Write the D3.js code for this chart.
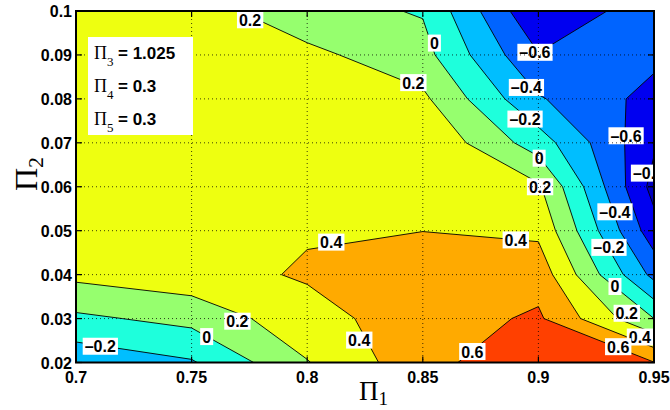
<!DOCTYPE html>
<html>
<head>
<meta charset="utf-8">
<script src="https://cdn.jsdelivr.net/npm/d3@7"></script>
<style>
  body { margin: 0; background: #fff; }
  svg { display: block; }
</style>
</head>
<body>
<svg id="chart" width="670" height="410"></svg>
<script>
// Sampling grid
const pi1Values = [0.7, 0.75, 0.8, 0.85, 0.9, 0.95];
const pi2Values = [0.02, 0.03, 0.04, 0.05, 0.06, 0.07, 0.08, 0.09, 0.1];

// Response at each grid node, one row per Π2 value (bottom to top)
const zAt002 = [-0.34, -0.22, 0.19, 0.53, 0.76, 0.605];
const zAt003 = [-0.04, 0.06, 0.33, 0.50, 0.63, 0.00];
const zAt004 = [0.25, 0.33, 0.42, 0.50, 0.52, -0.46];
const zAt005 = [0.29, 0.35, 0.385, 0.398, 0.36, -0.72];
const zAt006 = [0.31, 0.36, 0.36, 0.39, 0.23, -0.87];
const zAt007 = [0.32, 0.35, 0.34, 0.38, -0.10, -0.77];
const zAt008 = [0.32, 0.34, 0.32, 0.24, -0.38, -0.67];
const zAt009 = [0.31, 0.32, 0.25, 0.07, -0.59, -0.55];
const zAt010 = [0.30, 0.29, 0.07, -0.015, -0.79, -0.47];

// Contour levels and the fill of each band (lowest band first)
const levels = [-0.8, -0.6, -0.4, -0.2, 0, 0.2, 0.4, 0.6];
const bandColors = ["#0000BE", "#0000F0", "#0064FF", "#00BEFF", "#1EFFDC",
                    "#96FF6E", "#EEFF10", "#FFAA00", "#FF4000"];

// Axis ticks
const xTicks = [0.7, 0.75, 0.8, 0.85, 0.9, 0.95];
const xTickLabels = ["0.7", "0.75", "0.8", "0.85", "0.9", "0.95"];
const yTicks = [0.02, 0.03, 0.04, 0.05, 0.06, 0.07, 0.08, 0.09, 0.1];
const yTickLabels = ["0.02", "0.03", "0.04", "0.05", "0.06", "0.07", "0.08", "0.09", "0.1"];

// Inline contour labels: level shown and where it sits
const labelLevel = [0.2, 0, 0.2, -0.6, -0.4, -0.2, 0, 0.2, -0.6, -0.8, -0.4, -0.2,
                    0, 0.2, 0.4, 0.6, 0.4, 0.4, 0.4, 0.6, 0.2, 0, -0.2];
const labelPi1 = [0.7753, 0.855, 0.8459, 0.8985, 0.8948, 0.8942, 0.9003, 0.9007, 0.9379, 0.9476, 0.9331, 0.9305,
                  0.9331, 0.9382, 0.9439, 0.9345, 0.8902, 0.8104, 0.8225, 0.8714, 0.7698, 0.7565, 0.7105];
const labelPi2 = [0.0980, 0.0927, 0.0837, 0.0906, 0.0826, 0.0754, 0.0665, 0.0600, 0.0716, 0.0631, 0.0543, 0.0462,
                  0.0373, 0.0312, 0.0258, 0.0236, 0.0479, 0.0474, 0.0251, 0.0225, 0.0294, 0.0259, 0.0237];

// Fixed parameters listed in the key
const paramIndex = ["3", "4", "5"];
const paramValue = ["1.025", "0.3", "0.3"];

const zGrid = [zAt002, zAt003, zAt004, zAt005, zAt006, zAt007, zAt008, zAt009, zAt010];

const svg = d3.select("#chart");
const plot = { left: 76, right: 654, top: 11, bottom: 362.5 };

const x = d3.scaleLinear().domain([0.7, 0.95]).range([plot.left, plot.right]);
const y = d3.scaleLinear().domain([0.02, 0.1]).range([plot.bottom, plot.top]);

svg.append("defs").append("clipPath").attr("id", "plotClip")
  .append("rect")
  .attr("x", plot.left).attr("y", plot.top)
  .attr("width", plot.right - plot.left).attr("height", plot.bottom - plot.top);

// Pad the grid by one node on each side (edge values repeated) so that
// contours run cleanly out to the frame before being clipped.
const nx = pi1Values.length, ny = pi2Values.length;
const gw = nx + 2, gh = ny + 2;
const padded = [];
for (let j = 0; j < gh; j++) {
  const jj = Math.min(ny - 1, Math.max(0, j - 1));
  for (let i = 0; i < gw; i++) {
    const ii = Math.min(nx - 1, Math.max(0, i - 1));
    padded.push(zGrid[jj][ii]);
  }
}

const contours = d3.contours().size([gw, gh]).thresholds(levels)(padded);

// grid coordinates (node centres at k + 0.5) to pixel positions
const gx = d3.scaleLinear().domain([1.5, gw - 1.5]).range([x(pi1Values[0]), x(pi1Values[nx - 1])]);
const gy = d3.scaleLinear().domain([1.5, gh - 1.5]).range([y(pi2Values[0]), y(pi2Values[ny - 1])]);
const path = d3.geoPath(d3.geoTransform({
  point(px, py) { this.stream.point(gx(px), gy(py)); }
}));

const field = svg.append("g").attr("clip-path", "url(#plotClip)");
field.append("rect")
  .attr("x", plot.left).attr("y", plot.top)
  .attr("width", plot.right - plot.left).attr("height", plot.bottom - plot.top)
  .attr("fill", bandColors[0]);

field.selectAll("path.band")
  .data(contours)
  .join("path")
  .attr("class", "band")
  .attr("d", path)
  .attr("fill", (d, i) => bandColors[i + 1])
  .attr("stroke", "none");

field.selectAll("path.iso")
  .data(contours)
  .join("path")
  .attr("class", "iso")
  .attr("d", path)
  .attr("fill", "none")
  .attr("stroke", "#000")
  .attr("stroke-width", 0.9)
  .attr("stroke-linejoin", "round");

// Inline labels with white boxes
const fmt = v => (v === 0 ? "0" : (v < 0 ? "\u2013" : "") + Math.abs(v).toFixed(1));
const labels = svg.append("g").attr("clip-path", "url(#plotClip)");
labelLevel.forEach((lv, i) => {
  const cx = x(labelPi1[i]), cy = y(labelPi2[i]);
  const g = labels.append("g");
  const rect = g.append("rect").attr("fill", "#fff");
  const t = g.append("text")
    .attr("x", cx).attr("y", cy + 6)
    .attr("text-anchor", "middle")
    .attr("font-family", "Liberation Sans, Arial, sans-serif")
    .attr("font-weight", "bold")
    .attr("font-size", 16)
    .attr("fill", "#000")
    .text(fmt(lv));
  const bb = t.node().getBBox();
  rect.attr("x", bb.x - 2).attr("y", cy - 8.5)
    .attr("width", bb.width + 4).attr("height", 17);
});

// Dotted grid
const grid = svg.append("g").attr("stroke", "#000").attr("stroke-width", 1)
  .attr("stroke-dasharray", "1 3").attr("opacity", 0.75);
xTicks.slice(1, -1).forEach(v => {
  grid.append("line").attr("x1", x(v)).attr("x2", x(v))
    .attr("y1", plot.top).attr("y2", plot.bottom);
});
yTicks.slice(1, -1).forEach(v => {
  grid.append("line").attr("x1", plot.left).attr("x2", plot.right)
    .attr("y1", y(v)).attr("y2", y(v));
});

// Frame and inward ticks on all sides
const axes = svg.append("g").attr("stroke", "#000").attr("stroke-width", 1.2);
xTicks.forEach(v => {
  axes.append("line").attr("x1", x(v)).attr("x2", x(v)).attr("y1", plot.bottom).attr("y2", plot.bottom - 6);
  axes.append("line").attr("x1", x(v)).attr("x2", x(v)).attr("y1", plot.top).attr("y2", plot.top + 6);
});
yTicks.forEach(v => {
  axes.append("line").attr("x1", plot.left).attr("x2", plot.left + 6).attr("y1", y(v)).attr("y2", y(v));
  axes.append("line").attr("x1", plot.right).attr("x2", plot.right - 6).attr("y1", y(v)).attr("y2", y(v));
});
svg.append("rect")
  .attr("x", plot.left).attr("y", plot.top)
  .attr("width", plot.right - plot.left).attr("height", plot.bottom - plot.top)
  .attr("fill", "none").attr("stroke", "#000").attr("stroke-width", 2);

const tickFont = { family: "Liberation Sans, Arial, sans-serif", size: 16 };
svg.append("g").selectAll("text")
  .data(xTicks)
  .join("text")
  .attr("x", d => x(d)).attr("y", plot.bottom + 20)
  .attr("text-anchor", "middle")
  .attr("font-family", tickFont.family).attr("font-weight", "bold").attr("font-size", tickFont.size)
  .text((d, i) => xTickLabels[i]);
svg.append("g").selectAll("text")
  .data(yTicks)
  .join("text")
  .attr("x", plot.left - 4).attr("y", d => y(d) + 6)
  .attr("text-anchor", "end")
  .attr("font-family", tickFont.family).attr("font-weight", "bold").attr("font-size", tickFont.size)
  .text((d, i) => yTickLabels[i]);

// Axis titles
const serif = "Liberation Serif, Times New Roman, serif";
const xt = svg.append("text")
  .attr("x", 359).attr("y", 400)
  .attr("font-family", serif).attr("font-size", 27);
xt.append("tspan").text("\u03A0");
xt.append("tspan").attr("font-size", 19).attr("dy", 5).text("1");

const yt = svg.append("text")
  .attr("transform", "translate(37,191) rotate(-90)")
  .attr("font-family", serif).attr("font-size", 32);
yt.append("tspan").text("\u03A0");
yt.append("tspan").attr("font-size", 22).attr("dy", 6).text("2");

// Key with the fixed parameters
const key = svg.append("g");
key.append("rect")
  .attr("x", 88).attr("y", 37).attr("width", 105).attr("height", 98)
  .attr("fill", "#fff");
paramIndex.forEach((p, i) => {
  const base = 59 + i * 33;
  const row = key.append("text").attr("x", 94).attr("y", base);
  row.append("tspan").attr("font-family", serif).attr("font-size", 18).text("\u03A0");
  row.append("tspan").attr("font-family", serif).attr("font-size", 13).attr("dy", 7).text(p);
  row.append("tspan")
    .attr("font-family", "Liberation Sans, Arial, sans-serif").attr("font-weight", "bold")
    .attr("font-size", 17).attr("dy", -7).attr("x", 118)
    .text("= " + paramValue[i]);
});
</script>
</body>
</html>
